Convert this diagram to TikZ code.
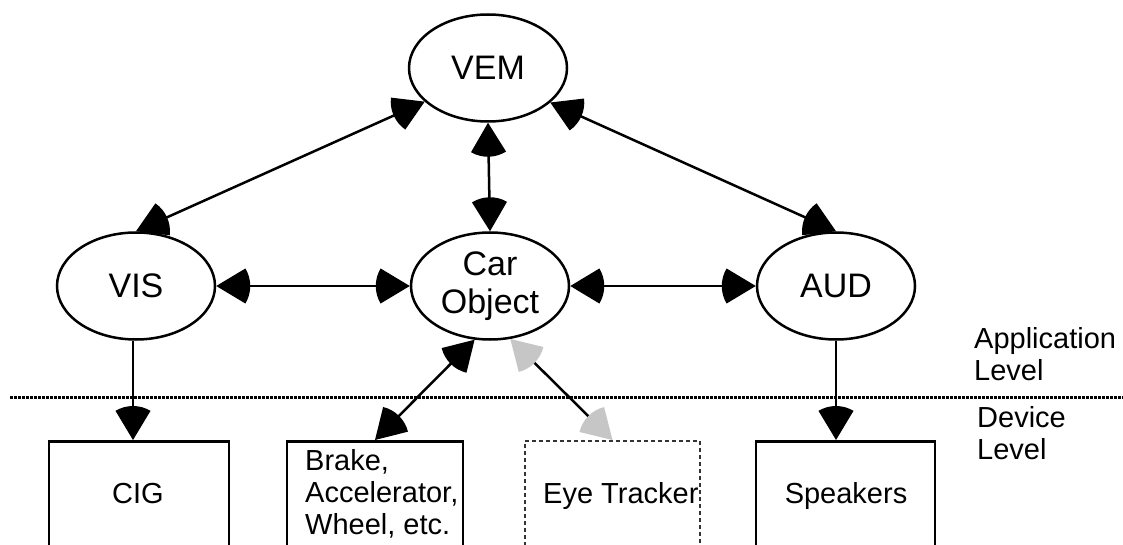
\documentclass[tikz,border=0pt]{standalone}
\usepackage{fontspec}
\setmainfont{Liberation Sans}
\usetikzlibrary{arrows.meta,calc,shapes.geometric}

\pgfdeclarearrow{
  name = Fan,
  parameters = {\the\pgfarrowlength},
  setup code = {
    \pgfarrowssettipend{0pt}
    \pgfarrowssetbackend{-\pgfarrowlength}
    \pgfarrowssetlineend{-.6\pgfarrowlength}
    \pgfarrowssavethe\pgfarrowlength
  },
  drawing code = {
    \pgfpathmoveto{\pgfpointorigin}
    \pgfpathlineto{\pgfpointpolar{149}{\pgfarrowlength}}
    \pgfpatharc{149}{211}{\pgfarrowlength}
    \pgfpathclose
    \pgfusepathqfill
  },
  defaults = {length = 34pt}
}

\tikzset{
  ell/.style={draw, line width=2.5pt, ellipse, minimum width=158pt, minimum height=107pt,
    inner sep=0pt, font=\fontsize{34}{37.5}\selectfont, align=center},
  devbox/.style={draw, line width=2.5pt, rectangle, inner sep=0pt, anchor=north, minimum height=130pt},
  ghostbox/.style={devbox, draw=gray!40!black, line width=2pt, dash pattern=on 4pt off 3pt},
  lbl/.style={font=\fontsize{29}{32}\selectfont, inner sep=0pt},
  conn/.style={line width=2.5pt, {Fan}-{Fan}},
  greyconn/.style={line width=2.5pt, {Fan[color=gray!45]}-{Fan[color=gray!45]}},
  oneway/.style={line width=2.5pt, -{Fan}},
  levelline/.style={line width=3pt, dash pattern=on 3pt off 1pt},
}

\begin{document}
\begin{tikzpicture}[x=1pt, y=-1pt]
\useasboundingbox (0,0) rectangle (1123,545);
\clip (0,0) rectangle (1123,545);

% application level
\node[ell] (vem) at (488,68) {VEM};
\node[ell] (vis) at (136,286) {VIS};
\node[ell] (car) at (490,286) {Car\\Object};
\node[ell] (aud) at (836,286) {AUD};

% device level
\node[devbox, minimum width=180pt] (cig) at (139,440) {};
\node[devbox, minimum width=176pt] (brk) at (375,440) {};
\node[ghostbox, minimum width=175pt] (eye) at (612.5,440) {};
\node[devbox, minimum width=179pt] (spk) at (845.5,440) {};

\node[lbl, anchor=base] (cigt) at (138,503) {CIG};
\node[lbl, anchor=base west, align=left] (brkt) at (305,534) {Brake,\\Accelerator,\\Wheel, etc.};
\node[lbl, anchor=base west] (eyet) at (543,503) {Eye Tracker};
\node[lbl, anchor=base] (spkt) at (846,503) {Speakers};

% levels
\draw[levelline] (10,397) -- (1123,397);
\node[lbl, anchor=base west, align=left] (app) at (974,380) {Application\\Level};
\node[lbl, anchor=base west, align=left] (dev) at (977,459) {Device\\Level};

% connectors
\draw[conn] (vem.208) -- (vis.north);
\draw[conn] (vem.331) -- (aud.north);
\draw[conn] (vem.south) -- (car.north);
\draw[conn] (vis.east) -- (car.west);
\draw[conn] (car.east) -- (aud.west);
\draw[oneway] ($(vis.south)+(-3,0)$) -- ($(vis.south |- cig.north)+(-3,0)$);
\draw[oneway] (aud.south) -- (aud.south |- spk.north);
\draw[conn] (car.254) -- (brk.north);
\draw[greyconn] (car.291) -- (eye.north);
\end{tikzpicture}
\end{document}
